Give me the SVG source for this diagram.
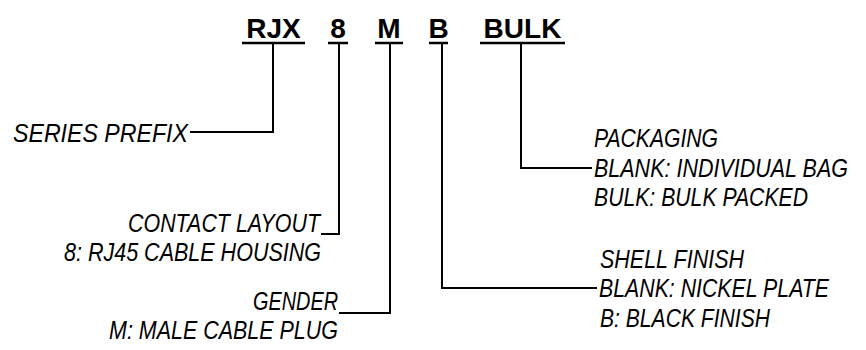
<svg xmlns="http://www.w3.org/2000/svg" width="866" height="350" viewBox="0 0 866 350">
<style>
.code{font-family:"Liberation Sans",Arial,sans-serif;font-weight:bold;font-size:28px;fill:#000;text-anchor:middle}
.lbl{font-family:"Liberation Sans Narrow","Liberation Sans",Arial,sans-serif;font-style:italic;font-size:26px;fill:#000}
.ul{stroke:#000;stroke-width:2.5;fill:none}
.con{stroke:#000;stroke-width:2;fill:none}
</style>
<rect width="866" height="350" fill="#fff"/>
<g id="code-rjx"><text class="code" x="273.5" y="38">RJX</text><line class="ul" x1="242" y1="43" x2="305" y2="43"/></g>
<g id="code-8"><text class="code" x="338" y="38">8</text><line class="ul" x1="328" y1="43" x2="348" y2="43"/></g>
<g id="code-m"><text class="code" x="389" y="38">M</text><line class="ul" x1="375" y1="43" x2="403" y2="43"/></g>
<g id="code-b"><text class="code" x="438.5" y="38">B</text><line class="ul" x1="429" y1="43" x2="448" y2="43"/></g>
<g id="code-bulk"><text class="code" x="522.5" y="38">BULK</text><line class="ul" x1="480" y1="43" x2="565" y2="43"/></g>

<g id="connectors">
<path class="con" d="M190 132 H273 V43"/>
<path class="con" d="M321 234 H339 V43"/>
<path class="con" d="M339 313 H390 V43"/>
<path class="con" d="M521 43 V168 H592"/>
<path class="con" d="M442 43 V288 H597"/>
</g>

<g id="series-prefix"><text class="lbl" x="13" y="142" textLength="175" lengthAdjust="spacingAndGlyphs">SERIES PREFIX</text></g>
<g id="contact-layout">
<text class="lbl" x="128" y="232" textLength="192" lengthAdjust="spacingAndGlyphs">CONTACT LAYOUT</text>
<text class="lbl" x="64" y="261" textLength="257" lengthAdjust="spacingAndGlyphs">8: RJ45 CABLE HOUSING</text>
</g>
<g id="gender">
<text class="lbl" x="253" y="310" textLength="85" lengthAdjust="spacingAndGlyphs">GENDER</text>
<text class="lbl" x="109" y="339" textLength="229" lengthAdjust="spacingAndGlyphs">M: MALE CABLE PLUG</text>
</g>
<g id="packaging">
<text class="lbl" x="594" y="147" textLength="124" lengthAdjust="spacingAndGlyphs">PACKAGING</text>
<text class="lbl" x="594" y="177" textLength="254" lengthAdjust="spacingAndGlyphs">BLANK: INDIVIDUAL BAG</text>
<text class="lbl" x="594" y="206" textLength="214" lengthAdjust="spacingAndGlyphs">BULK: BULK PACKED</text>
</g>
<g id="shell-finish">
<text class="lbl" x="600" y="268" textLength="144" lengthAdjust="spacingAndGlyphs">SHELL FINISH</text>
<text class="lbl" x="599" y="297" textLength="230" lengthAdjust="spacingAndGlyphs">BLANK: NICKEL PLATE</text>
<text class="lbl" x="600" y="327" textLength="170" lengthAdjust="spacingAndGlyphs">B: BLACK FINISH</text>
</g>
</svg>
